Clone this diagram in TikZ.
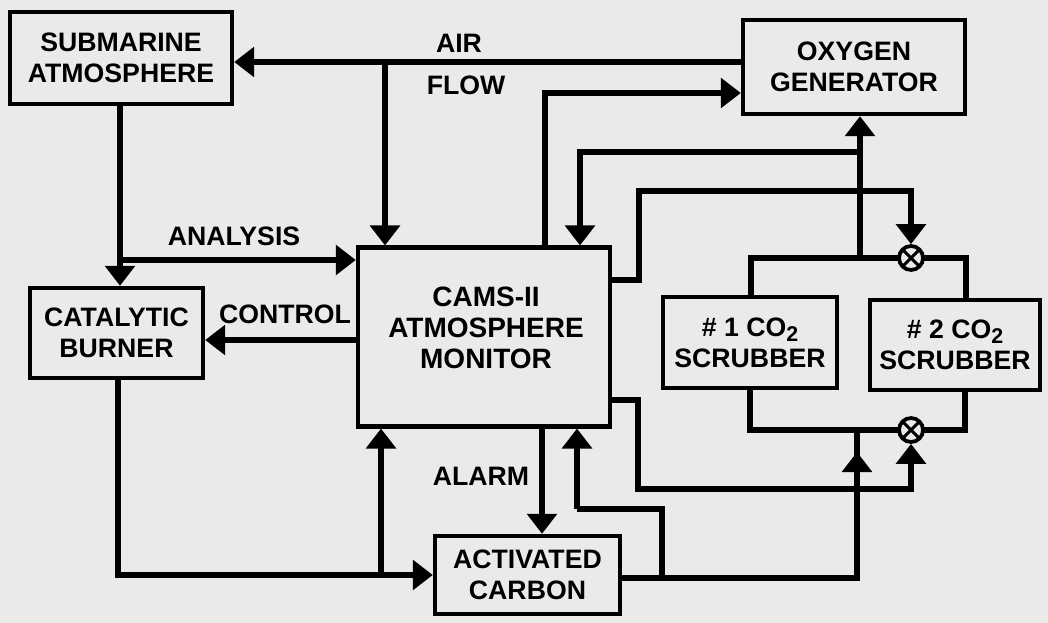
\documentclass[tikz,border=0pt]{standalone}
\usepackage{fontspec}
\setmainfont{Liberation Sans}
\usetikzlibrary{arrows.meta}
\definecolor{paper}{RGB}{234,234,232}
\newcommand{\subtwo}{\raisebox{-0.2em}{\fontsize{16}{16}\selectfont 2}}
\begin{document}
\begin{tikzpicture}[x=0.75pt,y=-0.75pt,
  box/.style={draw, line width=3.3pt, inner sep=0pt},
  lbl/.style={font=\fontsize{20}{23.5}\selectfont\bfseries, align=center, inner sep=0pt},
  conn/.style={line width=4pt, line join=miter},
  arr/.style={conn, -{Triangle[length=15pt,width=22pt]}},
  valve/.style={circle, draw, fill=paper, line width=2.8pt, minimum size=18pt, inner sep=0pt,
    path picture={\draw[line width=2.2pt]
      (path picture bounding box.north west) -- (path picture bounding box.south east)
      (path picture bounding box.north east) -- (path picture bounding box.south west);}}
]
\fill[paper] (0,0) rectangle (1048,623);
\useasboundingbox (0,0) rectangle (1048,623);

% boxes
\node[box, lbl, minimum width=166.5pt, minimum height=69pt] (sub) at (121,58) {SUBMARINE\\ATMOSPHERE};
\node[box, lbl, minimum width=129.75pt, minimum height=67.5pt] (cat) at (116.5,333) {CATALYTIC\\BURNER};
\node[box, minimum width=189pt, minimum height=134pt] (cams) at (484,337) {};
\node[lbl, font=\fontsize{21}{23}\selectfont\bfseries] (camsT) at (486,328) {CAMS-II\\ATMOSPHERE\\MONITOR};
\node[box, lbl, minimum width=166.5pt, minimum height=70.5pt] (oxy) at (854,67) {OXYGEN\\GENERATOR};
\node[box, lbl, minimum width=138.75pt, minimum height=58.5pt] (act) at (527.5,575) {ACTIVATED\\CARBON};
\node[box, lbl, minimum width=130.5pt, minimum height=68.25pt] (s1) at (750,342.5) {\# 1 CO\subtwo\\SCRUBBER};
\node[box, lbl, minimum width=127.5pt, minimum height=67.5pt] (s2) at (955,345) {\# 2 CO\subtwo\\SCRUBBER};

% labels
\node[lbl] (tair) at (459,43) {AIR};
\node[lbl] (tflow) at (466,85) {FLOW};
\node[lbl] (tana) at (234,236) {ANALYSIS};
\node[lbl] (tctl) at (285,314) {CONTROL};
\node[lbl] (talarm) at (481,476) {ALARM};

% coordinates
\coordinate (air) at (600,62);
\coordinate (j1) at (385,62);
\coordinate (n1) at (545,93);
\coordinate (ob) at (860,152);
\coordinate (p1) at (580,152);
\coordinate (q1) at (639,280);
\coordinate (q2) at (639,191);
\coordinate (q3) at (911,191);
\coordinate (tl) at (751,258);
\coordinate (tr) at (966,258);
\coordinate (bl) at (750,430);
\coordinate (br) at (965,430);
\coordinate (m1) at (638,400);
\coordinate (m2) at (638,489);
\coordinate (m3) at (911,489);
\coordinate (k1) at (857,578);
\coordinate (ka) at (857,452);
\coordinate (k2) at (662,578);
\coordinate (k3) at (662,509);
\coordinate (k4) at (577,509);
\coordinate (j2) at (120,260);
\coordinate (ctl) at (280,340);
\coordinate (j3) at (118,575);
\coordinate (j4) at (381,575);
\coordinate (al) at (542,480);

% manifolds
\draw[conn] (s1.north -| tl) -- (tl) -- (tr) -- (s2.north -| tr);
\draw[conn] (s1.south -| bl) -- (bl) -- (br) -- (s2.south -| br);
\node[valve] (vt) at (911,258) {};
\node[valve] (vb) at (911,430) {};

% connectors
\draw[arr] (oxy.west |- air) -- (sub.east |- air);
\draw[arr] (j1) -- (cams.north -| j1);
\draw[arr] (sub.south -| j2) -- (cat.north -| j2);
\draw[arr] (j2) -- (cams.west |- j2);
\draw[arr] (cams.west |- ctl) -- (cat.east |- ctl);
\draw[arr] (cat.south -| j3) -- (j3) -- (act.west |- j3);
\draw[arr] (j4) -- (cams.south -| j4);
\draw[arr] (cams.south -| al) -- (act.north -| al);
\draw[arr] (cams.north -| n1) -- (n1) -- (oxy.west |- n1);
\draw[arr] (ob |- tl) -- (oxy.south -| ob);
\draw[arr] (ob) -- (p1) -- (cams.north -| p1);
\draw[arr] (cams.east |- q1) -- (q1) -- (q2) -- (q3) -- (vt.north);
\draw[arr] (cams.east |- m1) -- (m1) -- (m2) -- (m3) -- (vb.south);
\draw[conn] (act.east |- k1) -- (k1) -- (ka |- bl);
\draw[arr] (k1) -- (ka);
\draw[conn] (k2) -- (k3) -- (k4);
\draw[arr] (k4) -- (cams.south -| k4);
\end{tikzpicture}
\end{document}
